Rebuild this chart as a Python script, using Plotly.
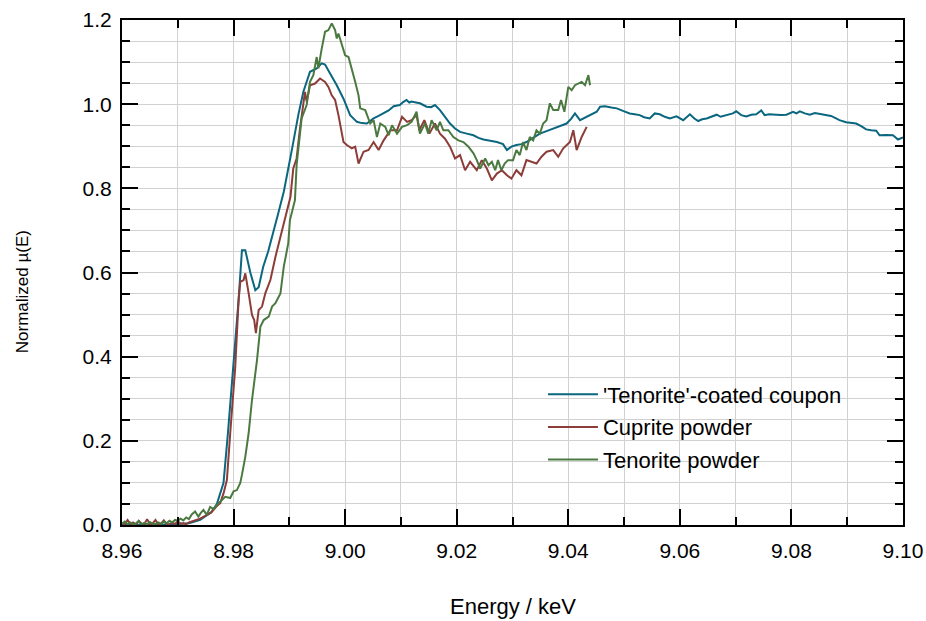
import plotly.graph_objects as go

# Cu K-edge XANES, normalised absorption
energy_coupon = [8.960, 8.962, 8.964, 8.966, 8.968, 8.970, 8.972, 8.974, 8.975, 8.976, 8.977, 8.9782, 8.979, 8.980, 8.9809,
                 8.9815, 8.9821, 8.983, 8.9839, 8.9845, 8.9853, 8.9862, 8.9871, 8.9880, 8.9890, 8.9898, 8.9905, 8.9916,
                 8.9925, 8.9937, 8.9949, 8.9958, 8.9964, 8.9973, 8.9985, 8.9997, 9.0009, 9.0021, 9.0030, 9.0039, 9.0051,
                 9.0060, 9.0069, 9.0078, 9.0087, 9.0098, 9.0104, 9.0110, 9.0115, 9.0119, 9.0127, 9.0134, 9.0140, 9.0146,
                 9.0154, 9.0161, 9.0170, 9.0179, 9.0188, 9.0197, 9.0206, 9.0218, 9.0230, 9.0239, 9.0248, 9.0260, 9.0272,
                 9.0283, 9.0290, 9.0298, 9.0307, 9.0316, 9.0325, 9.0337, 9.0349, 9.0361, 9.0373, 9.0385, 9.0397, 9.0405,
                 9.0412, 9.0421, 9.0430, 9.0439, 9.0451, 9.0457, 9.0466, 9.0477, 9.0487, 9.0498, 9.0510, 9.0519, 9.0528,
                 9.0536, 9.0546, 9.0555, 9.0564, 9.0573, 9.0582, 9.0594, 9.0606, 9.0618, 9.0626, 9.0633, 9.0640, 9.0648,
                 9.0657, 9.0666, 9.0673, 9.0681, 9.0689, 9.0695, 9.0701, 9.0710, 9.0719, 9.0728, 9.0737, 9.0746, 9.0752,
                 9.0760, 9.0773, 9.0782, 9.0791, 9.0803, 9.0809, 9.0815, 9.0824, 9.0833, 9.0842, 9.0856, 9.0871, 9.0880,
                 9.0886, 9.0898, 9.0907, 9.0916, 9.0925, 9.0934, 9.0943, 9.0952, 9.0958, 9.0970, 9.0982, 9.0991, 9.1000]
mu_coupon = [0.002, 0.000, 0.001, 0.000, 0.001, 0.002, 0.004, 0.012, 0.020, 0.030, 0.050, 0.100, 0.220, 0.375, 0.535,
             0.653, 0.653, 0.600, 0.558, 0.565, 0.613, 0.650, 0.693, 0.740, 0.792, 0.845, 0.895, 0.974,
             1.029, 1.077, 1.085, 1.097, 1.094, 1.073, 1.045, 1.013, 0.974, 0.958, 0.955, 0.954, 0.966,
             0.972, 0.978, 0.985, 0.995, 0.998, 1.005, 1.010, 1.004, 1.006, 1.004, 1.002, 0.998, 0.994,
             0.993, 0.998, 0.986, 0.970, 0.954, 0.942, 0.934, 0.930, 0.926, 0.920, 0.916, 0.913, 0.910,
             0.905, 0.891, 0.899, 0.903, 0.905, 0.910, 0.920, 0.930, 0.936, 0.942, 0.948, 0.954, 0.965,
             0.978, 0.962, 0.968, 0.974, 0.982, 0.994, 0.995, 0.992, 0.990, 0.984, 0.978, 0.976, 0.974,
             0.969, 0.966, 0.978, 0.976, 0.970, 0.966, 0.971, 0.962, 0.976, 0.966, 0.960, 0.964, 0.966,
             0.970, 0.975, 0.970, 0.973, 0.975, 0.978, 0.983, 0.974, 0.971, 0.975, 0.976, 0.985, 0.974,
             0.976, 0.975, 0.974, 0.975, 0.982, 0.978, 0.983, 0.978, 0.975, 0.979, 0.975, 0.972, 0.966,
             0.962, 0.957, 0.956, 0.954, 0.948, 0.940, 0.938, 0.937, 0.926, 0.927, 0.926, 0.916, 0.921]

energy_cuprite = [8.9600, 8.9605, 8.9610, 8.9615, 8.9620, 8.9625, 8.9630, 8.9635, 8.9640, 8.9645, 8.9650, 8.9655, 8.9660,
                  8.9665, 8.9670, 8.9675, 8.9680, 8.9685, 8.9690, 8.9695, 8.9700, 8.9705, 8.9710, 8.9715, 8.9720, 8.9730,
                  8.9740, 8.9750, 8.9760, 8.9770, 8.9776, 8.9782, 8.9788, 8.9794, 8.9803, 8.9809, 8.9812, 8.9818, 8.9821,
                  8.9827, 8.9833, 8.9837, 8.9840, 8.9845, 8.9851, 8.9857, 8.9866, 8.9875, 8.9881, 8.9887, 8.9896, 8.9902,
                  8.9907, 8.9913, 8.9919, 8.9928, 8.9931, 8.9937, 8.9946, 8.9955, 8.9964, 8.9970, 8.9976, 8.9982, 8.9988,
                  8.9997, 9.0003, 9.0012, 9.0018, 9.0024, 9.0033, 9.0042, 9.0051, 9.0060, 9.0069, 9.0081, 9.0093, 9.0102,
                  9.0111, 9.0119, 9.0128, 9.0133, 9.0142, 9.0151, 9.0161, 9.0170, 9.0179, 9.0188, 9.0197, 9.0206, 9.0215,
                  9.0224, 9.0236, 9.0245, 9.0254, 9.0263, 9.0272, 9.0281, 9.0290, 9.0298, 9.0307, 9.0316, 9.0325, 9.0334,
                  9.0343, 9.0352, 9.0361, 9.0373, 9.0382, 9.0391, 9.0403, 9.0409, 9.0415, 9.0424, 9.0433]
mu_cuprite = [0.004, 0.002, 0.012, 0.002, 0.006, 0.001, 0.010, 0.003, 0.002, 0.014, 0.002, 0.004, 0.012,
              0.001, 0.003, 0.011, 0.002, 0.001, 0.006, 0.002, 0.009, 0.003, 0.004, 0.002, 0.006, 0.010,
              0.015, 0.022, 0.030, 0.045, 0.052, 0.075, 0.107, 0.218, 0.375, 0.534, 0.578, 0.582, 0.598,
              0.551, 0.499, 0.487, 0.456, 0.511, 0.519, 0.551, 0.582, 0.637, 0.669, 0.701, 0.748, 0.780,
              0.847, 0.871, 0.942, 1.029, 1.006, 1.045, 1.049, 1.061, 1.053, 1.041, 1.021, 1.010, 0.974,
              0.910, 0.903, 0.895, 0.899, 0.859, 0.887, 0.891, 0.910, 0.891, 0.914, 0.938, 0.938, 0.970,
              0.958, 0.962, 0.974, 0.938, 0.962, 0.930, 0.954, 0.930, 0.918, 0.899, 0.871, 0.879, 0.843,
              0.863, 0.843, 0.867, 0.847, 0.819, 0.835, 0.843, 0.831, 0.823, 0.843, 0.831, 0.867, 0.863,
              0.859, 0.875, 0.887, 0.891, 0.875, 0.895, 0.910, 0.938, 0.891, 0.922, 0.946]

energy_tenorite = [8.9600, 8.9605, 8.9610, 8.9615, 8.9620, 8.9625, 8.9630, 8.9635, 8.9640, 8.9645, 8.9650, 8.9655, 8.9660,
                   8.9665, 8.9670, 8.9675, 8.9680, 8.9685, 8.9690, 8.9695, 8.9700, 8.9705, 8.9710, 8.9715, 8.9720, 8.9725,
                   8.9731, 8.9737, 8.9741, 8.9746, 8.9752, 8.9758, 8.9764, 8.9770, 8.9776, 8.9785, 8.9794, 8.9800, 8.9806,
                   8.9812, 8.9815, 8.9821, 8.9827, 8.9833, 8.9842, 8.9848, 8.9854, 8.9863, 8.9869, 8.9875, 8.9884, 8.9890,
                   8.9898, 8.9901, 8.9910, 8.9913, 8.9922, 8.9931, 8.9937, 8.9943, 8.9949, 8.9952, 8.9958, 8.9964, 8.9970,
                   8.9976, 8.9982, 8.9985, 8.9988, 8.9994, 9.0000, 9.0006, 9.0012, 9.0018, 9.0024, 9.0027, 9.0036, 9.0045,
                   9.0051, 9.0057, 9.0063, 9.0072, 9.0078, 9.0084, 9.0093, 9.0102, 9.0111, 9.0119, 9.0128, 9.0134, 9.0143,
                   9.0149, 9.0155, 9.0164, 9.0170, 9.0176, 9.0185, 9.0194, 9.0203, 9.0212, 9.0221, 9.0230, 9.0236, 9.0242,
                   9.0251, 9.0257, 9.0263, 9.0269, 9.0274, 9.0280, 9.0286, 9.0292, 9.0301, 9.0307, 9.0313, 9.0319, 9.0325,
                   9.0331, 9.0337, 9.0343, 9.0349, 9.0355, 9.0361, 9.0367, 9.0373, 9.0382, 9.0387, 9.0393, 9.0400, 9.0406,
                   9.0412, 9.0418, 9.0424, 9.0430, 9.0436, 9.0439]
mu_tenorite = [0.003, 0.008, 0.002, 0.006, 0.001, 0.004, 0.009, 0.002, 0.005, 0.001, 0.007, 0.003, 0.002,
               0.006, 0.003, 0.008, 0.004, 0.010, 0.006, 0.012, 0.010, 0.015, 0.011, 0.018, 0.014, 0.025,
               0.032, 0.020, 0.028, 0.036, 0.024, 0.043, 0.038, 0.048, 0.055, 0.067, 0.064, 0.080, 0.083,
               0.100, 0.119, 0.162, 0.218, 0.297, 0.392, 0.471, 0.487, 0.495, 0.519, 0.527, 0.550, 0.614,
               0.669, 0.724, 0.772, 0.855, 0.966, 0.998, 1.053, 1.069, 1.112, 1.085, 1.132, 1.172, 1.176,
               1.192, 1.176, 1.156, 1.168, 1.144, 1.116, 1.112, 1.085, 1.053, 1.021, 0.990, 0.986, 0.954,
               0.962, 0.922, 0.954, 0.946, 0.926, 0.950, 0.930, 0.946, 0.950, 0.958, 0.982, 0.930, 0.954,
               0.930, 0.962, 0.938, 0.958, 0.938, 0.938, 0.922, 0.914, 0.910, 0.899, 0.883, 0.867, 0.847,
               0.871, 0.855, 0.863, 0.843, 0.867, 0.843, 0.859, 0.867, 0.867, 0.891, 0.879, 0.910, 0.891,
               0.922, 0.914, 0.938, 0.930, 0.954, 0.962, 1.002, 0.986, 0.986, 1.010, 0.982, 1.041, 1.033,
               1.045, 1.049, 1.053, 1.045, 1.069, 1.045]

series_names = ["'Tenorite'-coated coupon", "Cuprite powder", "Tenorite powder"]
series_colors = ["#0b6680", "#8c3d39", "#4b7a41"]
# the last series sits on the overlaid (x2, y2) axes, which carry the short tick marks
series_axes = [("x", "y"), ("x", "y"), ("x2", "y2")]

FONT = "Liberation Sans, Arial, Helvetica, sans-serif"
GRID = "#d2d2d2"

fig = go.Figure()
for name, color, (xa, ya), xs, ys in zip(series_names, series_colors, series_axes,
                                          [energy_coupon, energy_cuprite, energy_tenorite],
                                          [mu_coupon, mu_cuprite, mu_tenorite]):
    fig.add_trace(go.Scatter(x=xs, y=ys, mode="lines", name=name, legendgroup=name,
                             xaxis=xa, yaxis=ya, line=dict(color=color, width=2)))

# main axes: frame, long labelled ticks, grid at every minor step
major_axis = dict(
    showline=True, linecolor="black", linewidth=2, mirror="allticks",
    ticks="inside", ticklen=16, tickwidth=2, tickcolor="black",
    showgrid=True, gridcolor=GRID, gridwidth=1,
    zeroline=False, tickmode="linear", automargin=False,
    tickfont=dict(family=FONT, size=21, color="black"),
)
# overlaid axes: short unlabelled ticks only
minor_axis = dict(
    showline=False, mirror="allticks", ticks="inside", ticklen=8, tickwidth=2, tickcolor="black",
    showgrid=False, zeroline=False, showticklabels=False, tickmode="linear", automargin=False,
)

fig.update_layout(
    xaxis=dict(range=[8.96, 9.10], tick0=8.96, dtick=0.02, tickformat=".2f", ticklabelstandoff=6,
               minor=dict(dtick=0.01, tick0=8.96, ticks="", showgrid=True, gridcolor=GRID, gridwidth=1),
               **major_axis),
    yaxis=dict(range=[0, 1.2], tick0=0, dtick=0.2, tickformat=".1f", ticklabelstandoff=4,
               minor=dict(dtick=0.05, tick0=0, ticks="", showgrid=True, gridcolor=GRID, gridwidth=1),
               **major_axis),
    xaxis2=dict(overlaying="x", matches="x", side="bottom", range=[8.96, 9.10], tick0=8.96, dtick=0.01,
                **minor_axis),
    yaxis2=dict(overlaying="y", matches="y", side="left", range=[0, 1.2], tick0=0, dtick=0.05,
                **minor_axis),
)

# axis titles
fig.add_annotation(text="Energy / keV", xref="paper", yref="paper", x=0.5, y=-0.162,
                   showarrow=False, font=dict(family=FONT, size=22, color="black"),
                   xanchor="center", yanchor="middle")
fig.add_annotation(text="Normalized \u00b5(E)", xref="paper", yref="paper", x=-0.128, y=0.461,
                   showarrow=False, textangle=-90, font=dict(family=FONT, size=17, color="black"),
                   xanchor="center", yanchor="middle")

fig.update_layout(
    width=926, height=621,
    margin=dict(l=122, r=23, t=20, b=96),
    paper_bgcolor="white", plot_bgcolor="white",
    font=dict(family=FONT, size=21, color="black"),
    showlegend=True,
    legend=dict(x=0.539, y=0.300, xanchor="left", yanchor="top", bgcolor="rgba(0,0,0,0)",
                itemwidth=50, font=dict(family=FONT, size=22, color="black"), tracegroupgap=1),
)

fig.write_html("out.html")
